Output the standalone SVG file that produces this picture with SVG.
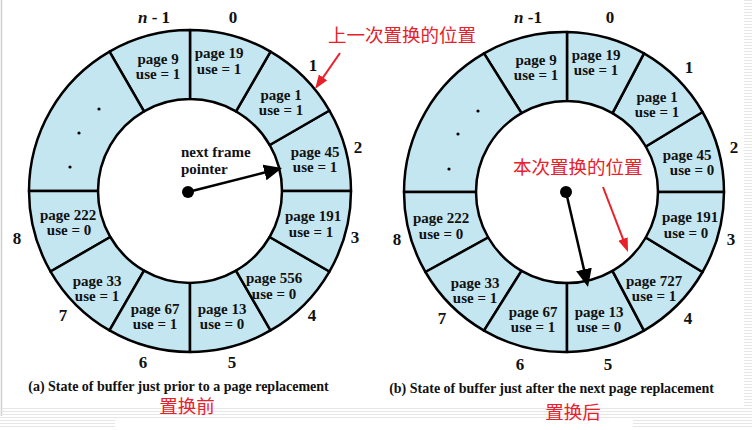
<svg xmlns="http://www.w3.org/2000/svg" width="752" height="430" viewBox="0 0 752 430">
<style>
.seg{fill:#c4e6f0;stroke:#000;stroke-width:2.5;stroke-linejoin:round}
.lbl{font-family:"Liberation Serif","Times New Roman",serif;font-weight:bold;font-size:15px;fill:#111;text-anchor:middle}
.lbs{font-family:"Liberation Serif","Times New Roman",serif;font-weight:bold;font-size:15px;fill:#111;text-anchor:start}
.num{font-family:"Liberation Serif","Times New Roman",serif;font-weight:bold;font-size:17px;fill:#111;text-anchor:middle}
.cap{font-family:"Liberation Serif","Times New Roman",serif;font-weight:bold;font-size:14px;fill:#111;text-anchor:middle}
.red{font-family:"Noto Sans CJK SC","Noto Sans",sans-serif;font-size:18.5px;fill:#e8202a}
.redc{font-family:"Noto Sans CJK SC","Noto Sans",sans-serif;font-size:18.5px;fill:#e8202a;text-anchor:middle}
.dot{fill:#000}
.ptr{stroke:#000;stroke-width:2.5;fill:none}
.rarr{stroke:#e8202a;stroke-width:2;fill:none}
.stripe{fill:url(#stripes)}
</style>
<defs>
<pattern id="stripes" x="0" y="0" width="8" height="3" patternUnits="userSpaceOnUse">
<rect x="0" y="0" width="8" height="1" fill="#e6e6e6"/>
</pattern>
<marker id="bhead" markerUnits="userSpaceOnUse" markerWidth="20" markerHeight="18" refX="2" refY="8" orient="auto">
<path d="M0,0 L18,8 L0,16 Z" fill="#000"/>
</marker>
<marker id="rhead" markerUnits="userSpaceOnUse" markerWidth="16" markerHeight="12" refX="2" refY="5" orient="auto">
<path d="M0,0 L14,5 L0,10 Z" fill="#e8202a"/>
</marker>
</defs>
<rect x="0" y="0" width="752" height="430" fill="#fff"/>
<g id="background">
<line x1="1.5" y1="0" x2="1.5" y2="416" stroke="#cfcfcf" stroke-width="1.5"/>
<rect class="stripe" x="744" y="0" width="8" height="408"/>
<rect class="stripe" x="0" y="408" width="752" height="12"/>
<rect class="stripe" x="0" y="420" width="115" height="8"/>
<rect class="stripe" x="633" y="420" width="119" height="8"/>
</g>

<!-- Left ring: center (190,191), R=161, r=92 -->
<g id="a-seg-2"><path class="seg" d="M351,191 A161,161 0 0 0 329.43,110.5 L269.67,145 A92,92 0 0 1 282,191 Z"/><text class="lbl" x="315" y="157">page 45</text><text class="lbl" x="315" y="172">use = 1</text></g>
<g id="a-seg-1"><path class="seg" d="M329.43,110.5 A161,161 0 0 0 270.5,51.57 L236,111.33 A92,92 0 0 1 269.67,145 Z"/><text class="lbl" x="281" y="100">page 1</text><text class="lbl" x="281" y="115">use = 1</text></g>
<g id="a-seg-0"><path class="seg" d="M270.5,51.57 A161,161 0 0 0 190,30 L190,99 A92,92 0 0 1 236,111.33 Z"/><text class="lbl" x="219" y="58">page 19</text><text class="lbl" x="219" y="74">use = 1</text></g>
<g id="a-seg-n1"><path class="seg" d="M190,30 A161,161 0 0 0 109.5,51.57 L144,111.33 A92,92 0 0 1 190,99 Z"/><text class="lbl" x="158" y="64">page 9</text><text class="lbl" x="158" y="79">use = 1</text></g>
<g id="a-seg-dots"><path class="seg" d="M109.5,51.57 A161,161 0 0 0 29,191 L98,191 A92,92 0 0 1 144,111.33 Z"/><circle class="dot" cx="99" cy="109" r="1.6"/><circle class="dot" cx="79" cy="133" r="1.6"/><circle class="dot" cx="70" cy="167" r="1.6"/></g>
<g id="a-seg-8"><path class="seg" d="M29,191 A161,161 0 0 0 50.57,271.5 L110.33,237 A92,92 0 0 1 98,191 Z"/><text class="lbl" x="68" y="220">page 222</text><text class="lbl" x="69" y="235">use = 0</text></g>
<g id="a-seg-7"><path class="seg" d="M50.57,271.5 A161,161 0 0 0 109.5,330.43 L144,270.67 A92,92 0 0 1 110.33,237 Z"/><text class="lbl" x="97" y="286">page 33</text><text class="lbl" x="97" y="301">use = 1</text></g>
<g id="a-seg-6"><path class="seg" d="M109.5,330.43 A161,161 0 0 0 190,352 L190,283 A92,92 0 0 1 144,270.67 Z"/><text class="lbl" x="155" y="314">page 67</text><text class="lbl" x="155" y="329">use = 1</text></g>
<g id="a-seg-5"><path class="seg" d="M190,352 A161,161 0 0 0 270.5,330.43 L236,270.67 A92,92 0 0 1 190,283 Z"/><text class="lbl" x="222" y="314">page 13</text><text class="lbl" x="222" y="329">use = 0</text></g>
<g id="a-seg-4"><path class="seg" d="M270.5,330.43 A161,161 0 0 0 329.43,271.5 L269.67,237 A92,92 0 0 1 236,270.67 Z"/><text class="lbl" x="274" y="283">page 556</text><text class="lbl" x="274" y="299">use = 0</text></g>
<g id="a-seg-3"><path class="seg" d="M329.43,271.5 A161,161 0 0 0 351,191 L282,191 A92,92 0 0 1 269.67,237 Z"/><text class="lbl" x="313" y="221">page 191</text><text class="lbl" x="311" y="237">use = 1</text></g>

<g id="a-numbers">
<text class="num" x="154" y="23"><tspan font-style="italic">n</tspan> - 1</text>
<text class="num" x="233" y="23">0</text>
<text class="num" x="313" y="71">1</text>
<text class="num" x="358" y="153">2</text>
<text class="num" x="355" y="243">3</text>
<text class="num" x="312" y="321">4</text>
<text class="num" x="232" y="368">5</text>
<text class="num" x="143" y="368">6</text>
<text class="num" x="63" y="321">7</text>
<text class="num" x="17" y="244">8</text>
</g>
<g id="a-pointer">
<text class="lbs" x="181" y="157">next frame</text>
<text class="lbs" x="181" y="174">pointer</text>
<circle class="dot" cx="188" cy="192" r="6"/>
</g>

<!-- Right ring: outer center (564,192) R=160, inner center (567,192) r=91 -->
<g id="b-seg-2"><path class="seg" d="M724,192 A160,160 0 0 0 702.56,112 L645.81,146.5 A91,91 0 0 1 658,192 Z"/><text class="lbl" x="687" y="160">page 45</text><text class="lbl" x="692" y="175">use = 0</text></g>
<g id="b-seg-1"><path class="seg" d="M702.56,112 A160,160 0 0 0 644,53.44 L612.5,113.19 A91,91 0 0 1 645.81,146.5 Z"/><text class="lbl" x="657" y="102">page 1</text><text class="lbl" x="657" y="117">use = 1</text></g>
<g id="b-seg-0"><path class="seg" d="M644,53.44 A160,160 0 0 0 567,32 L567,101 A91,91 0 0 1 612.5,113.19 Z"/><text class="lbl" x="596" y="60">page 19</text><text class="lbl" x="596" y="75">use = 1</text></g>
<g id="b-seg-n1"><path class="seg" d="M567,32 A160,160 0 0 0 484,53.44 L521.5,113.19 A91,91 0 0 1 567,101 Z"/><text class="lbl" x="536" y="65">page 9</text><text class="lbl" x="536" y="80">use = 1</text></g>
<g id="b-seg-dots"><path class="seg" d="M484,53.44 A160,160 0 0 0 404,192 L476,192 A91,91 0 0 1 521.5,113.19 Z"/><circle class="dot" cx="478" cy="111" r="1.6"/><circle class="dot" cx="458" cy="134" r="1.6"/><circle class="dot" cx="449" cy="169" r="1.6"/></g>
<g id="b-seg-8"><path class="seg" d="M404,192 A160,160 0 0 0 425.44,272 L488.19,237.5 A91,91 0 0 1 476,192 Z"/><text class="lbl" x="441" y="223">page 222</text><text class="lbl" x="441" y="239">use = 0</text></g>
<g id="b-seg-7"><path class="seg" d="M425.44,272 A160,160 0 0 0 484,330.56 L521.5,270.81 A91,91 0 0 1 488.19,237.5 Z"/><text class="lbl" x="475" y="288">page 33</text><text class="lbl" x="475" y="303">use = 1</text></g>
<g id="b-seg-6"><path class="seg" d="M484,330.56 A160,160 0 0 0 567,352 L567,283 A91,91 0 0 1 521.5,270.81 Z"/><text class="lbl" x="533" y="317">page 67</text><text class="lbl" x="533" y="332">use = 1</text></g>
<g id="b-seg-5"><path class="seg" d="M567,352 A160,160 0 0 0 644,330.56 L612.5,270.81 A91,91 0 0 1 567,283 Z"/><text class="lbl" x="599" y="317">page 13</text><text class="lbl" x="599" y="332">use = 0</text></g>
<g id="b-seg-4"><path class="seg" d="M644,330.56 A160,160 0 0 0 702.56,272 L645.81,237.5 A91,91 0 0 1 612.5,270.81 Z"/><text class="lbl" x="654" y="286">page 727</text><text class="lbl" x="654" y="301">use = 1</text></g>
<g id="b-seg-3"><path class="seg" d="M702.56,272 A160,160 0 0 0 724,192 L658,192 A91,91 0 0 1 645.81,237.5 Z"/><text class="lbl" x="690" y="222">page 191</text><text class="lbl" x="686" y="238">use = 0</text></g>

<g id="b-numbers">
<text class="num" x="528" y="23"><tspan font-style="italic">n</tspan> -1</text>
<text class="num" x="610" y="23">0</text>
<text class="num" x="689" y="73">1</text>
<text class="num" x="734" y="153">2</text>
<text class="num" x="731" y="245">3</text>
<text class="num" x="688" y="324">4</text>
<text class="num" x="608" y="370">5</text>
<text class="num" x="520" y="370">6</text>
<text class="num" x="442" y="324">7</text>
<text class="num" x="397" y="245">8</text>
</g>
<g id="b-pointer">
<circle class="dot" cx="566" cy="192" r="6"/>
</g>

<g id="connectors">
<line class="ptr" x1="188" y1="192" x2="266.5" y2="172" marker-end="url(#bhead)"/>
<line class="ptr" x1="566" y1="192" x2="584.4" y2="271.4" marker-end="url(#bhead)"/>
<line class="rarr" x1="340" y1="53" x2="321.9" y2="79.1" marker-end="url(#rhead)"/>
<line class="rarr" x1="603" y1="187" x2="623.7" y2="240.8" marker-end="url(#rhead)"/>
</g>

<g id="annotations">
<text class="red" x="328" y="42">上一次置换的位置</text>
<text class="red" x="513" y="174">本次置换的位置</text>
<text class="cap" x="178.5" y="391">(a) State of buffer just prior to a page replacement</text>
<text class="cap" x="551.5" y="393">(b) State of buffer just after the next page replacement</text>
<text class="redc" x="187" y="413">置换前</text>
<text class="redc" x="573" y="419">置换后</text>
</g>
</svg>
